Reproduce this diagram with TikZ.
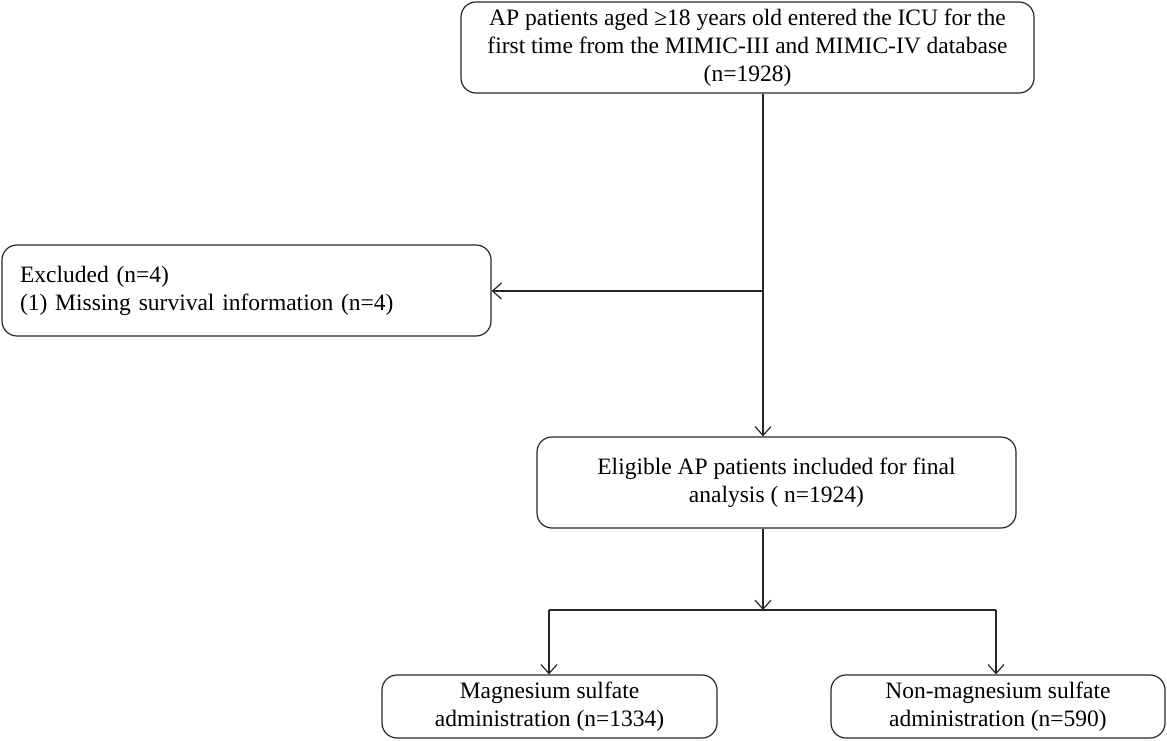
\documentclass[tikz,border=0pt]{standalone}
\usepackage{fontspec}
\setmainfont{Liberation Serif}
\usetikzlibrary{arrows.meta}
\begin{document}
\begin{tikzpicture}[x=1pt,y=-1pt,
  box/.style={draw=black!85, line width=1.2pt, rounded corners=15pt, align=center,
    font=\fontsize{23.5}{28}\selectfont, inner sep=0pt},
  conn/.style={draw=black!85, line width=1.2pt},
  arr/.style={conn, -{Straight Barb[length=9pt,width=16pt,line width=1.2pt]}}]
\useasboundingbox (0,0) rectangle (1167,740);
\node[box, minimum width=573pt, minimum height=91pt] (top) at (747.5,47.5)
  {AP patients aged ≥18 years old entered the ICU for the\\first time from the MIMIC-III and MIMIC-IV database\\(n=1928)};
\node[box, minimum width=489pt, minimum height=91pt, align=left, text width=453pt] (excl) at (246.5,290.5)
  {Excluded (n=4)\\(1) Missing survival information (n=4)};
\node[box, minimum width=479pt, minimum height=91pt] (elig) at (776.5,482.5)
  {Eligible AP patients included for final\\analysis ( n=1924)};
\node[box, minimum width=335pt, minimum height=63pt] (mg) at (549.5,706.5)
  {Magnesium sulfate\\administration (n=1334)};
\node[box, minimum width=334pt, minimum height=63pt] (nmg) at (998,706.5)
  {Non-magnesium sulfate\\administration (n=590)};
\coordinate (exj) at (763,291);
\coordinate (br) at (763,610);
\coordinate (brl) at (549,610);
\coordinate (brr) at (996,610);
\draw[conn] (top.south -| exj) -- (exj);
\draw[arr] (exj) -- (excl.east |- exj);
\draw[arr] (exj) -- (elig.north -| exj);
\draw[arr] (elig.south -| br) -- (br);
\draw[conn] (brl) -- (brr);
\draw[arr] (brl) -- (mg.north -| brl);
\draw[arr] (brr) -- (nmg.north -| brr);
\end{tikzpicture}
\end{document}
